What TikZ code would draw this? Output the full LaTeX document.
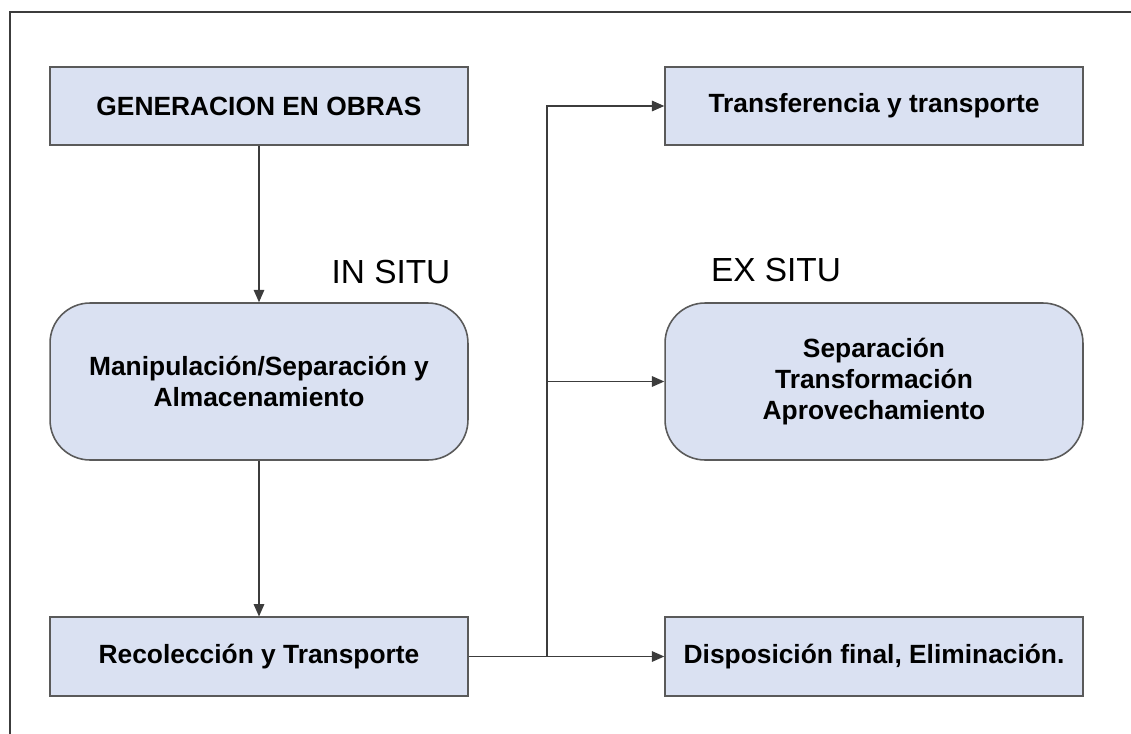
\documentclass[tikz,border=0pt]{standalone}
\usepackage{fontspec}
\setmainfont{Liberation Sans}
\usepackage{tikz}
\usetikzlibrary{arrows.meta,positioning}

\definecolor{boxfill}{HTML}{DAE1F2}
\definecolor{boxline}{HTML}{5A5A5A}
\definecolor{wire}{HTML}{3C3C3C}

\tikzset{
    stage/.style={draw=boxline, line width=0.9pt, fill=boxfill, minimum width=8.36cm,
        minimum height=1.57cm, inner sep=2pt, align=center,
        font=\fontsize{15}{17.5}\selectfont\bfseries},
    roundstage/.style={stage, minimum height=3.14cm, rounded corners=0.8cm},
    flow/.style={draw=wire, line width=0.7pt, -{Triangle[length=7pt,width=6pt]}},
    zone/.style={font=\fontsize{19}{22}\selectfont}
}

\begin{document}
\begin{tikzpicture}[x=0.02cm, y=-0.02cm]
        \useasboundingbox (0,0) rectangle (1131,733);
        % outer frame
        \draw[draw=wire, line width=0.8pt] (10,740) -- (10,12) -- (1140,12);

        \node[stage] (gen) at (259,106) {GENERACION EN OBRAS};
        \node[roundstage] (manip) at (259,381.5) {Manipulación/Separación y\\Almacenamiento};
        \node[stage] (recol) at (259,656.5) {Recolección y Transporte};

        \node[stage] (transf) at (874,106) {Transferencia y transporte};
        \node[roundstage] (separ) at (874,381.5) {Separación\\Transformación\\Aprovechamiento};
        \node[stage] (dispo) at (874,656.5) {Disposición final, Eliminación.};

        \node[zone] (insitu) at (391,272) {IN SITU};
        \node[zone] (exsitu) at (776,270) {EX SITU};

        \coordinate (junc) at (547,656.5);

        \draw[flow] (gen) -- (manip);
        \draw[flow] (manip) -- (recol);
        \draw[draw=wire, line width=1pt] (recol.east) -- (junc);
        \draw[flow] (junc) -- (dispo.west);
        \draw[flow] (junc) |- (transf.west);
        \draw[flow] (junc |- separ.west) -- (separ.west);
\end{tikzpicture}
\end{document}
